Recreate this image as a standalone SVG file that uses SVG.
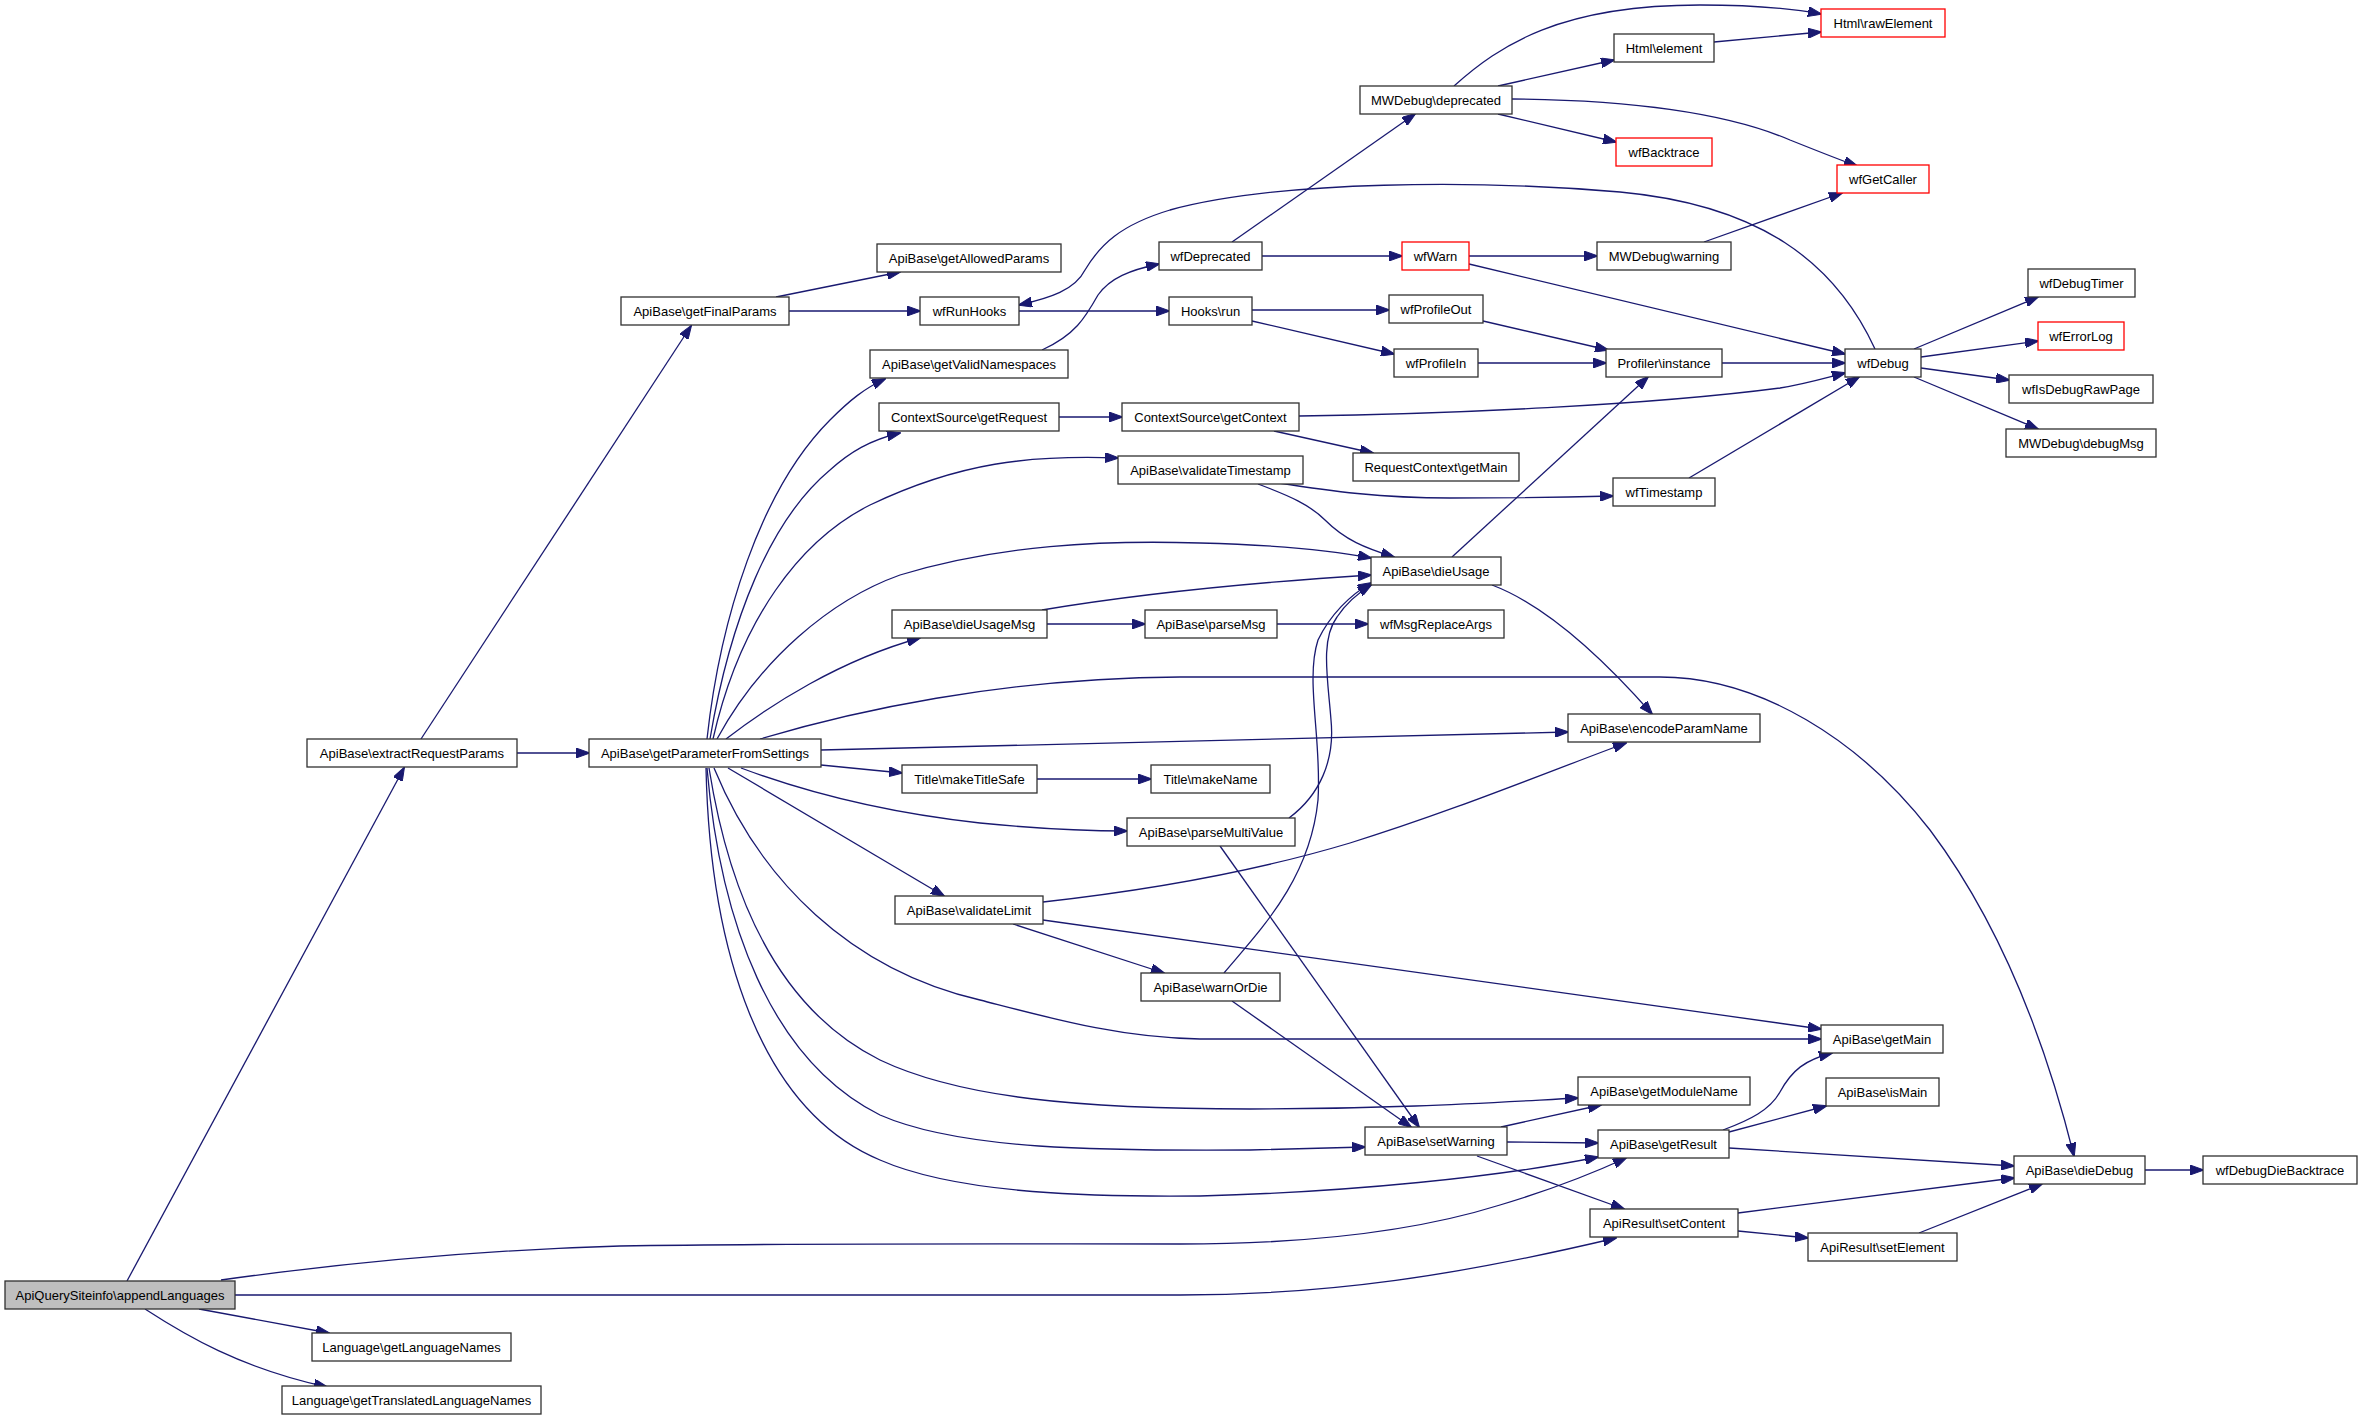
<svg xmlns="http://www.w3.org/2000/svg" width="2363" height="1420" viewBox="0 0 2363 1420">
<defs>
<marker id="arr" markerUnits="userSpaceOnUse" markerWidth="14" markerHeight="10" viewBox="0 0 14 10" refX="13" refY="5" orient="auto">
<path d="M0,0 L14,5 L0,10 Z" fill="#191970" stroke="#191970" stroke-width="1"/>
</marker>
</defs>
<style>
.node rect{fill:#ffffff;stroke:#303030;stroke-width:1.3}
.node.red rect{stroke:#ff0000}
.node.root rect{fill:#bfbfbf}
.node text{font-family:"Liberation Sans",Arial,sans-serif;font-size:13px;fill:#000;text-anchor:middle}
#edges path{fill:none;stroke:#191970;stroke-width:1.3;marker-end:url(#arr)}
</style>
<rect x="0" y="0" width="2363" height="1420" fill="#ffffff"/>
<g id="edges">
<path d="M127,1281 L404,768"/>
<path d="M421,739 L691,326"/>
<path d="M517,753 L589,753"/>
<path d="M776,297 L900,272"/>
<path d="M789,311 L920,311"/>
<path d="M1019,311 L1169,311"/>
<path d="M1875,349 C1835,262 1760,205 1620,192 C1480,180 1280,180 1170,210 C1120,225 1100,245 1085,270 C1075,290 1050,298 1019,305"/>
<path d="M1042,350 C1075,335 1085,318 1098,295 C1110,278 1130,270 1159,264"/>
<path d="M1232,242 L1415,114"/>
<path d="M1262,256 L1402,256"/>
<path d="M1454,86 C1500,45 1560,5 1700,5 C1760,5 1800,10 1821,14"/>
<path d="M1498,86 L1614,60"/>
<path d="M1498,114 L1616,142"/>
<path d="M1512,99 C1620,100 1720,110 1790,140 C1820,152 1840,160 1857,166"/>
<path d="M1714,42 L1821,32"/>
<path d="M1469,256 L1597,256"/>
<path d="M1469,264 L1845,354"/>
<path d="M1704,242 L1842,193"/>
<path d="M1252,310 L1389,310"/>
<path d="M1252,321 L1394,354"/>
<path d="M1483,321 L1608,350"/>
<path d="M1478,363 L1606,363"/>
<path d="M1722,363 L1845,363"/>
<path d="M1059,417 L1122,417"/>
<path d="M1299,416 C1450,414 1650,405 1780,388 C1805,384 1825,378 1845,373"/>
<path d="M1274,431 L1373,453"/>
<path d="M1279,483 C1330,491 1380,498 1450,498 C1520,498 1570,497 1613,496"/>
<path d="M1258,484 C1290,496 1310,505 1325,520 C1345,540 1365,548 1394,557"/>
<path d="M1689,478 L1859,377"/>
<path d="M1452,557 L1648,377"/>
<path d="M1492,585 C1545,605 1600,655 1652,714"/>
<path d="M1042,610 C1150,592 1260,582 1371,575"/>
<path d="M1047,624 L1145,624"/>
<path d="M1277,624 L1368,624"/>
<path d="M1037,779 L1151,779"/>
<path d="M1289,818 C1320,795 1335,760 1331,720 C1328,680 1320,640 1337,617 C1345,605 1358,593 1371,585"/>
<path d="M1224,973 C1260,930 1310,880 1318,800 C1322,740 1305,680 1318,640 C1330,615 1350,595 1371,583"/>
<path d="M1220,846 L1419,1127"/>
<path d="M1043,902 C1150,890 1260,870 1350,843 C1450,812 1540,775 1626,743"/>
<path d="M1013,924 L1164,973"/>
<path d="M1043,920 L1821,1029"/>
<path d="M1232,1001 L1411,1127"/>
<path d="M1501,1127 L1601,1105"/>
<path d="M1507,1142 L1598,1143"/>
<path d="M1477,1156 L1624,1209"/>
<path d="M1723,1130 C1750,1120 1770,1110 1780,1092 C1792,1070 1805,1060 1832,1053"/>
<path d="M1729,1132 L1826,1106"/>
<path d="M1729,1148 L2014,1166"/>
<path d="M1738,1213 L2014,1178"/>
<path d="M1738,1231 L1808,1238"/>
<path d="M1919,1233 L2042,1184"/>
<path d="M2145,1170 L2203,1170"/>
<path d="M1914,349 L2038,297"/>
<path d="M1921,357 L2038,341"/>
<path d="M1921,368 L2009,380"/>
<path d="M1914,377 L2038,429"/>
<path d="M221,1280 C350,1262 480,1250 620,1246 C800,1243 1000,1244 1180,1244 C1320,1244 1420,1230 1500,1205 C1560,1187 1600,1170 1626,1158"/>
<path d="M235,1295 L1180,1295 C1330,1295 1460,1275 1616,1238"/>
<path d="M199,1309 L329,1333"/>
<path d="M145,1309 C185,1335 240,1368 327,1387"/>
<path d="M707,739 C720,620 760,490 830,420 C850,400 865,388 885,379"/>
<path d="M710,739 C730,620 770,520 830,470 C850,452 870,440 900,433"/>
<path d="M713,739 C740,620 800,540 870,505 C960,462 1030,455 1118,458"/>
<path d="M717,739 C760,660 830,600 900,575 C1000,545 1100,540 1200,543 C1280,545 1330,550 1371,558"/>
<path d="M726,739 C770,705 840,660 920,638"/>
<path d="M760,739 C850,712 1000,678 1180,677 L1660,677 C1760,677 1860,740 1930,830 C1990,910 2040,1020 2074,1156"/>
<path d="M821,750 L1568,732"/>
<path d="M821,765 L902,773"/>
<path d="M741,768 C800,790 880,812 980,823 C1040,829 1080,831 1127,831"/>
<path d="M728,768 L944,896"/>
<path d="M714,768 C760,880 850,970 980,1000 C1050,1018 1120,1038 1200,1039 L1821,1039"/>
<path d="M709,768 C730,900 780,1010 880,1060 C960,1098 1080,1109 1250,1109 C1400,1109 1500,1102 1578,1098"/>
<path d="M707,768 C720,920 770,1060 880,1115 C960,1150 1100,1151 1250,1150 L1365,1147"/>
<path d="M706,768 C710,950 760,1110 880,1160 C960,1195 1100,1197 1200,1196 C1350,1192 1500,1177 1598,1157"/>
</g>
<g id="n_appendLanguages" class="node root"><rect x="5" y="1281" width="230" height="28"/><text x="120" y="1300">ApiQuerySiteinfo\appendLanguages</text></g>
<g id="n_extractRequestParams" class="node"><rect x="307" y="739" width="210" height="28"/><text x="412" y="758">ApiBase\extractRequestParams</text></g>
<g id="n_getParameterFromSettings" class="node"><rect x="589" y="739" width="232" height="28"/><text x="705" y="758">ApiBase\getParameterFromSettings</text></g>
<g id="n_getFinalParams" class="node"><rect x="621" y="297" width="168" height="28"/><text x="705" y="316">ApiBase\getFinalParams</text></g>
<g id="n_getAllowedParams" class="node"><rect x="877" y="244" width="184" height="28"/><text x="969" y="263">ApiBase\getAllowedParams</text></g>
<g id="n_wfRunHooks" class="node"><rect x="920" y="297" width="99" height="28"/><text x="969.5" y="316">wfRunHooks</text></g>
<g id="n_getValidNamespaces" class="node"><rect x="870" y="350" width="198" height="28"/><text x="969" y="369">ApiBase\getValidNamespaces</text></g>
<g id="n_getRequest" class="node"><rect x="879" y="403" width="180" height="28"/><text x="969" y="422">ContextSource\getRequest</text></g>
<g id="n_getContext" class="node"><rect x="1122" y="403" width="177" height="28"/><text x="1210.5" y="422">ContextSource\getContext</text></g>
<g id="n_hooksRun" class="node"><rect x="1169" y="297" width="83" height="28"/><text x="1210.5" y="316">Hooks\run</text></g>
<g id="n_validateTimestamp" class="node"><rect x="1118" y="456" width="185" height="28"/><text x="1210.5" y="475">ApiBase\validateTimestamp</text></g>
<g id="n_wfDeprecated" class="node"><rect x="1159" y="242" width="103" height="28"/><text x="1210.5" y="261">wfDeprecated</text></g>
<g id="n_mwDeprecated" class="node"><rect x="1360" y="86" width="152" height="28"/><text x="1436" y="105">MWDebug\deprecated</text></g>
<g id="n_htmlElement" class="node"><rect x="1614" y="34" width="100" height="28"/><text x="1664" y="53">Html\element</text></g>
<g id="n_wfBacktrace" class="node red"><rect x="1616" y="138" width="96" height="28"/><text x="1664" y="157">wfBacktrace</text></g>
<g id="n_wfWarn" class="node red"><rect x="1402" y="242" width="67" height="28"/><text x="1435.5" y="261">wfWarn</text></g>
<g id="n_mwWarning" class="node"><rect x="1597" y="242" width="134" height="28"/><text x="1664" y="261">MWDebug\warning</text></g>
<g id="n_wfProfileOut" class="node"><rect x="1389" y="295" width="94" height="28"/><text x="1436" y="314">wfProfileOut</text></g>
<g id="n_wfProfileIn" class="node"><rect x="1394" y="349" width="84" height="28"/><text x="1436" y="368">wfProfileIn</text></g>
<g id="n_profilerInstance" class="node"><rect x="1606" y="349" width="116" height="28"/><text x="1664" y="368">Profiler\instance</text></g>
<g id="n_requestContextGetMain" class="node"><rect x="1353" y="453" width="166" height="28"/><text x="1436" y="472">RequestContext\getMain</text></g>
<g id="n_wfTimestamp" class="node"><rect x="1613" y="478" width="102" height="28"/><text x="1664" y="497">wfTimestamp</text></g>
<g id="n_htmlRawElement" class="node red"><rect x="1821" y="9" width="124" height="28"/><text x="1883" y="28">Html\rawElement</text></g>
<g id="n_wfGetCaller" class="node red"><rect x="1837" y="165" width="92" height="28"/><text x="1883" y="184">wfGetCaller</text></g>
<g id="n_wfDebug" class="node"><rect x="1845" y="349" width="76" height="28"/><text x="1883" y="368">wfDebug</text></g>
<g id="n_wfDebugTimer" class="node"><rect x="2028" y="269" width="107" height="28"/><text x="2081.5" y="288">wfDebugTimer</text></g>
<g id="n_wfErrorLog" class="node red"><rect x="2038" y="322" width="86" height="28"/><text x="2081" y="341">wfErrorLog</text></g>
<g id="n_wfIsDebugRawPage" class="node"><rect x="2009" y="375" width="144" height="28"/><text x="2081" y="394">wfIsDebugRawPage</text></g>
<g id="n_mwDebugMsg" class="node"><rect x="2006" y="429" width="150" height="28"/><text x="2081" y="448">MWDebug\debugMsg</text></g>
<g id="n_dieUsageMsg" class="node"><rect x="892" y="610" width="155" height="28"/><text x="969.5" y="629">ApiBase\dieUsageMsg</text></g>
<g id="n_parseMsg" class="node"><rect x="1145" y="610" width="132" height="28"/><text x="1211" y="629">ApiBase\parseMsg</text></g>
<g id="n_makeTitleSafe" class="node"><rect x="902" y="765" width="135" height="28"/><text x="969.5" y="784">Title\makeTitleSafe</text></g>
<g id="n_makeName" class="node"><rect x="1151" y="765" width="119" height="28"/><text x="1210.5" y="784">Title\makeName</text></g>
<g id="n_parseMultiValue" class="node"><rect x="1127" y="818" width="168" height="28"/><text x="1211" y="837">ApiBase\parseMultiValue</text></g>
<g id="n_validateLimit" class="node"><rect x="895" y="896" width="148" height="28"/><text x="969" y="915">ApiBase\validateLimit</text></g>
<g id="n_dieUsage" class="node"><rect x="1371" y="557" width="130" height="28"/><text x="1436" y="576">ApiBase\dieUsage</text></g>
<g id="n_wfMsgReplaceArgs" class="node"><rect x="1368" y="610" width="136" height="28"/><text x="1436" y="629">wfMsgReplaceArgs</text></g>
<g id="n_encodeParamName" class="node"><rect x="1568" y="714" width="192" height="28"/><text x="1664" y="733">ApiBase\encodeParamName</text></g>
<g id="n_warnOrDie" class="node"><rect x="1141" y="973" width="139" height="28"/><text x="1210.5" y="992">ApiBase\warnOrDie</text></g>
<g id="n_getModuleName" class="node"><rect x="1578" y="1077" width="172" height="28"/><text x="1664" y="1096">ApiBase\getModuleName</text></g>
<g id="n_setWarning" class="node"><rect x="1365" y="1127" width="142" height="28"/><text x="1436" y="1146">ApiBase\setWarning</text></g>
<g id="n_getResult" class="node"><rect x="1598" y="1130" width="131" height="28"/><text x="1663.5" y="1149">ApiBase\getResult</text></g>
<g id="n_setContent" class="node"><rect x="1590" y="1209" width="148" height="28"/><text x="1664" y="1228">ApiResult\setContent</text></g>
<g id="n_getMain" class="node"><rect x="1821" y="1025" width="122" height="28"/><text x="1882" y="1044">ApiBase\getMain</text></g>
<g id="n_isMain" class="node"><rect x="1826" y="1078" width="113" height="28"/><text x="1882.5" y="1097">ApiBase\isMain</text></g>
<g id="n_dieDebug" class="node"><rect x="2014" y="1156" width="131" height="28"/><text x="2079.5" y="1175">ApiBase\dieDebug</text></g>
<g id="n_wfDebugDieBacktrace" class="node"><rect x="2203" y="1156" width="154" height="28"/><text x="2280" y="1175">wfDebugDieBacktrace</text></g>
<g id="n_setElement" class="node"><rect x="1808" y="1233" width="149" height="28"/><text x="1882.5" y="1252">ApiResult\setElement</text></g>
<g id="n_getLanguageNames" class="node"><rect x="312" y="1333" width="199" height="28"/><text x="411.5" y="1352">Language\getLanguageNames</text></g>
<g id="n_getTranslatedLanguageNames" class="node"><rect x="282" y="1386" width="259" height="28"/><text x="411.5" y="1405">Language\getTranslatedLanguageNames</text></g>
</svg>
